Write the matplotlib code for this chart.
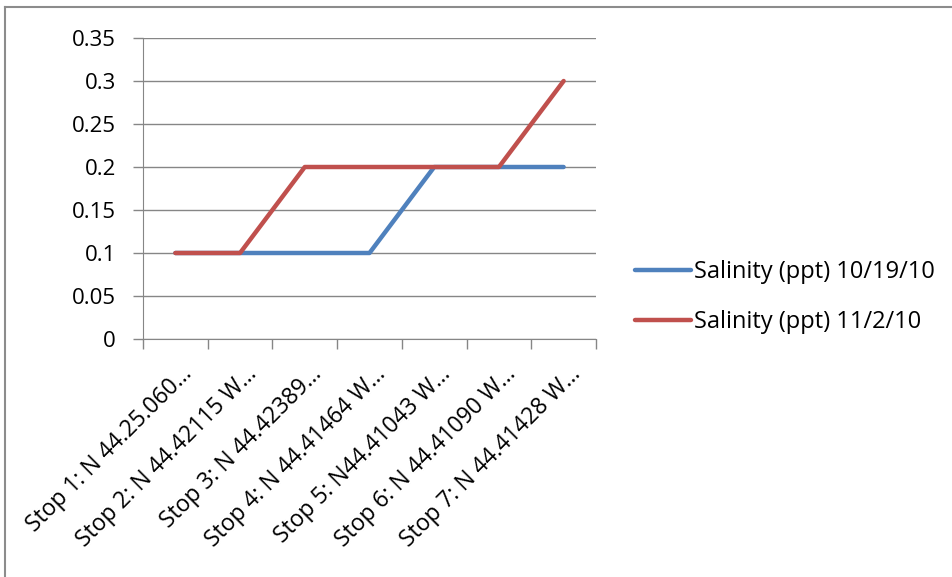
import numpy as np
import matplotlib
matplotlib.use('Agg')
import matplotlib.pyplot as plt
from matplotlib.lines import Line2D

plt.rcParams['font.family'] = ['Open Sans', 'DejaVu Sans']

stops = ['Stop 1: N 44.25.060…', 'Stop 2: N 44.42115 W…', 'Stop 3: N 44.42389…',
         'Stop 4: N 44.41464 W…', 'Stop 5: N44.41043 W…', 'Stop 6: N 44.41090 W…',
         'Stop 7: N 44.41428 W…']
salinity_1019 = [0.1, 0.1, 0.1, 0.1, 0.2, 0.2, 0.2]
salinity_1102 = [0.1, 0.1, 0.2, 0.2, 0.2, 0.2, 0.3]
yticks = [0, 0.05, 0.1, 0.15, 0.2, 0.25, 0.3, 0.35]
ytick_labels = ['0', '0.05', '0.1', '0.15', '0.2', '0.25', '0.3', '0.35']

fig = plt.figure(figsize=(9.53, 5.77), dpi=100)
ax = fig.add_axes([143/953, 1 - 339/577, 453/953, 301/577])

x = np.arange(len(stops))
ax.plot(x, salinity_1019, color='#4F81BD', lw=3.2, solid_capstyle='round',
        label='Salinity (ppt) 10/19/10', zorder=3)
ax.plot(x, salinity_1102, color='#C0504D', lw=3.2, solid_capstyle='round',
        label='Salinity (ppt) 11/2/10', zorder=4)

ax.set_xlim(-0.5, len(stops) - 0.5)
ax.set_ylim(0, 0.35)
ax.set_yticks(yticks)
ax.set_yticklabels(ytick_labels, fontsize=16)
ax.grid(axis='y', color='#868686', lw=1)
ax.set_axisbelow(True)

# category ticks sit on the boundaries between stops
ax.set_xticks(np.arange(-0.5, len(stops)))
ax.set_xticklabels([])
ax.tick_params(axis='x', length=7, width=1, color='#868686', direction='out')
ax.tick_params(axis='y', length=7, width=1, color='#868686', direction='out', pad=12.5)
for i, s in enumerate(stops):
    ax.annotate(s, xy=(i, 0), xycoords=('data', 'axes fraction'),
                xytext=(9.5, -23), textcoords='offset points',
                rotation=45, rotation_mode='anchor', ha='right', va='center',
                fontsize=16.5)

for side in ['top', 'right']:
    ax.spines[side].set_visible(False)
ax.spines['left'].set_color('#868686')
ax.spines['bottom'].set_color('#868686')

fig.legend(loc='center left', bbox_to_anchor=(623/953, 1 - 297/577),
           frameon=False, fontsize=17, handlelength=2.4, handletextpad=0.1,
           labelspacing=1.1, borderpad=0)

# chart frame (only top and left edges fall inside the image)
fig.add_artist(Line2D([5/953, 1], [1 - 7/577, 1 - 7/577], color='#8C8C8C', lw=1.5,
                      transform=fig.transFigure))
fig.add_artist(Line2D([5/953, 5/953], [0, 1 - 7/577], color='#8C8C8C', lw=1.5,
                      transform=fig.transFigure))

fig.savefig('out.png', dpi=100)
